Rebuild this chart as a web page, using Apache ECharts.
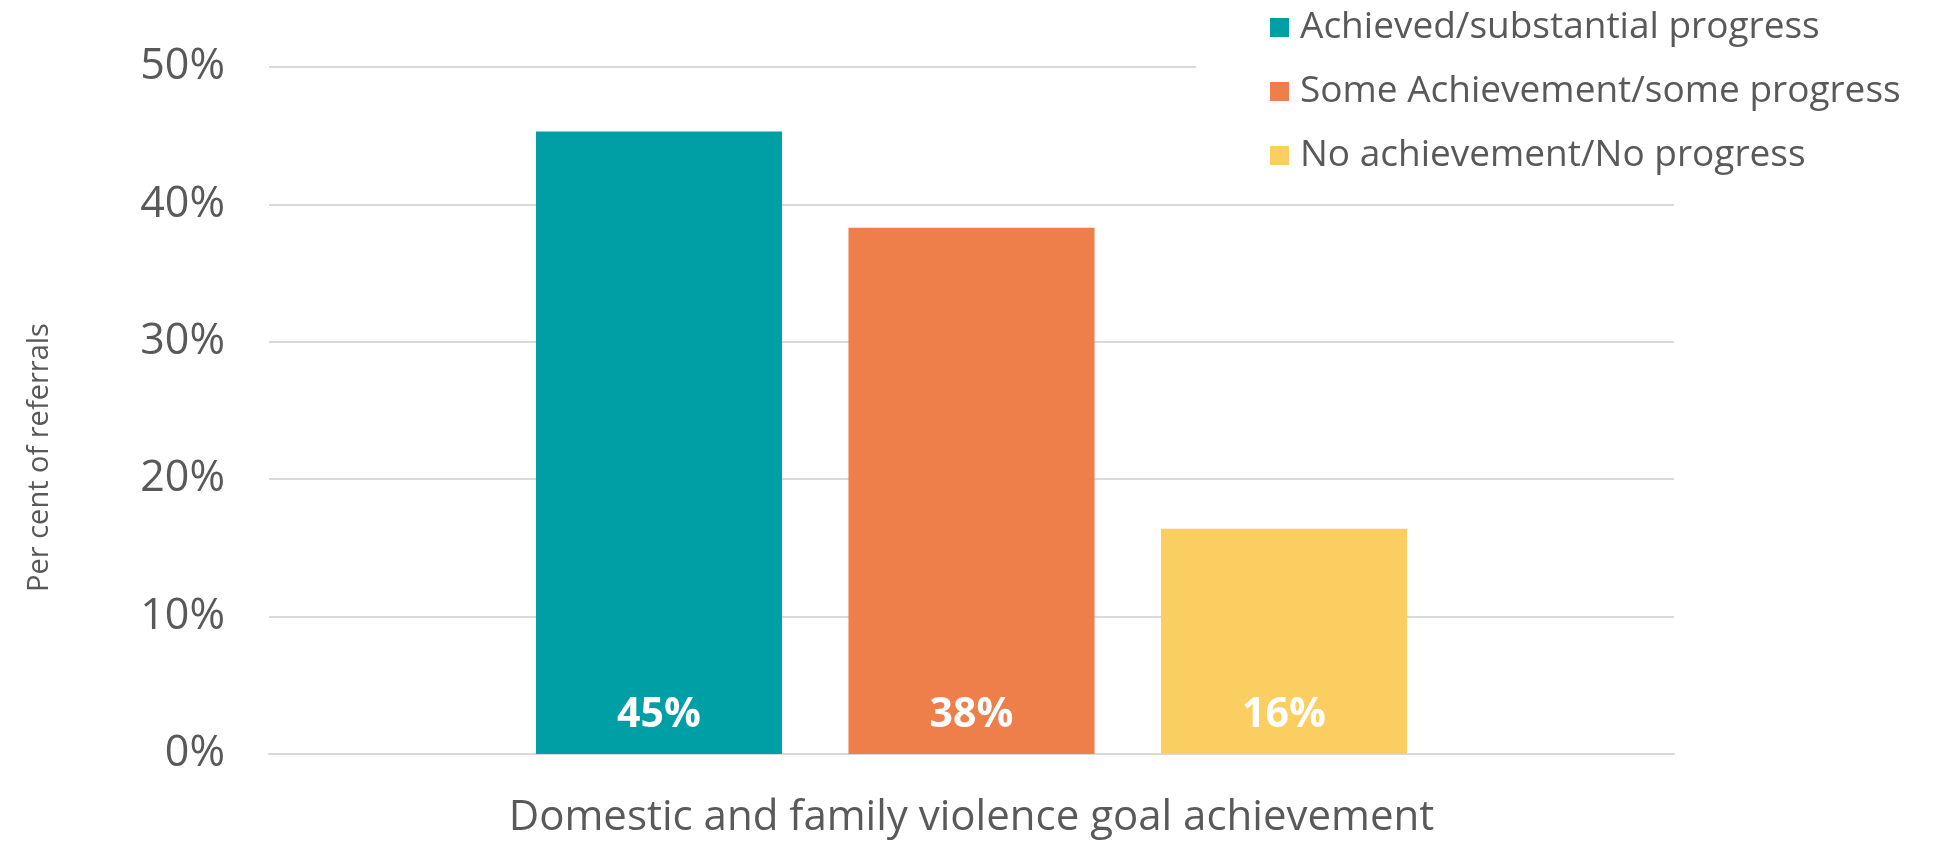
<!DOCTYPE html>
<html>
<head>
<meta charset="utf-8">
<script src="https://cdn.jsdelivr.net/npm/echarts@6/dist/echarts.min.js"></script>
<style>
    html, body { margin: 0; padding: 0; background: #fff; }
    #main { width: 1934px; height: 844px; }
</style>
</head>
<body>
<div id="main"></div>
<script>
var categories = ['Domestic and family violence goal achievement'];
var seriesNames = ['Achieved/substantial progress', 'Some Achievement/some progress', 'No achievement/No progress'];
var seriesValues = [[45.3], [38.3], [16.4]];
var seriesColors = ['#009ea5', '#ee7f4b', '#fbce61'];

var chartDom = document.getElementById('main');
var myChart = echarts.init(chartDom);
var option;

var fontName = 'Open Sans';
var textGray = '#595959';

var seriesArr = [];
seriesNames.forEach(function (name, idx) {
    seriesArr.push({
        name: name,
        type: 'bar',
        data: seriesValues[idx],
        barGap: '27%',
        barCategoryGap: '38%',
        itemStyle: { color: seriesColors[idx] },
        label: {
            show: true,
            position: 'insideBottom',
            distance: 18,
            color: '#fff',
            fontFamily: fontName,
            fontWeight: 'bold',
            fontSize: 41,
            formatter: function (params) {
                return Math.round(params.value) + '%';
            }
        }
    });
});

option = {
    animation: false,
    textStyle: { fontFamily: fontName },
    grid: {
        left: 269,
        right: 260,
        top: 67,
        bottom: 90,
        containLabel: false
    },
    legend: {
        orient: 'vertical',
        left: 1196,
        top: 0,
        padding: [9, 10, 8, 74],
        backgroundColor: '#fff',
        itemWidth: 19,
        itemHeight: 19,
        itemGap: 27,
        icon: 'rect',
        textStyle: {
            color: textGray,
            fontSize: 37,
            fontFamily: fontName,
            padding: [0, 0, 0, 6]
        },
        data: seriesNames
    },
    xAxis: {
        type: 'category',
        data: categories,
        axisTick: { show: false },
        axisLine: { lineStyle: { color: '#d9d9d9', width: 2 } },
        axisLabel: {
            color: textGray,
            fontSize: 42,
            fontFamily: fontName,
            margin: 43
        }
    },
    yAxis: {
        type: 'value',
        min: 0,
        max: 50,
        interval: 10,
        name: 'Per cent of referrals',
        nameLocation: 'middle',
        nameRotate: 90,
        nameGap: 215,
        nameTextStyle: {
            color: textGray,
            fontSize: 29,
            fontFamily: fontName,
            padding: [0, 94, 0, 0]
        },
        axisLine: { show: false },
        axisTick: { show: false },
        axisLabel: {
            color: textGray,
            fontSize: 43,
            fontFamily: fontName,
            margin: 44,
            formatter: '{value}%'
        },
        splitLine: { lineStyle: { color: '#d9d9d9', width: 2 } }
    },
    series: seriesArr
};

option && myChart.setOption(option);
</script>
</body>
</html>
